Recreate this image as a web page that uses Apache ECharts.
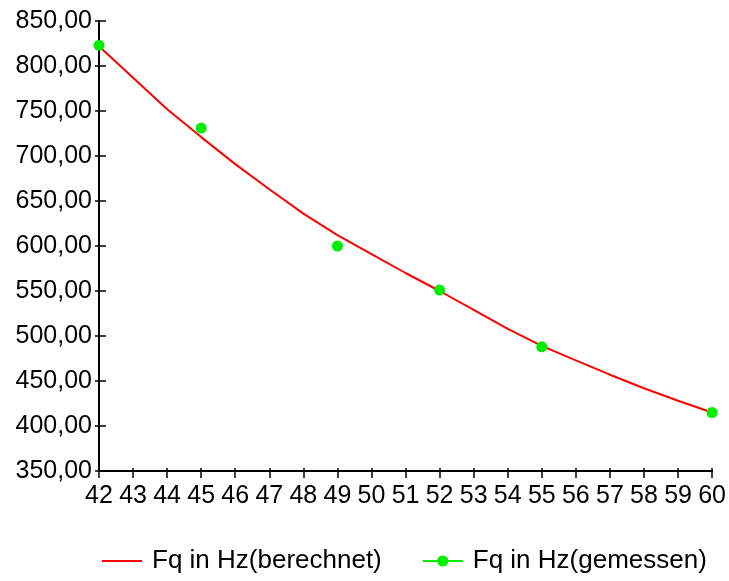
<!DOCTYPE html>
<html>
<head>
<meta charset="utf-8">
<script src="https://cdn.jsdelivr.net/npm/echarts@6/dist/echarts.min.js"></script>
<style>
  html, body { margin: 0; padding: 0; background: #fff; }
  #chart { width: 729px; height: 581px; }
</style>
</head>
<body>
<div id="chart"></div>
<script>
// x categories (Hz axis)
var categories = ['42', '43', '44', '45', '46', '47', '48', '49', '50', '51',
  '52', '53', '54', '55', '56', '57', '58', '59', '60']
// berechnet: one value per category
var berechnet = [822, 787, 752, 721, 691, 663, 636, 612, 591, 570,
  550, 529, 508, 489, 473, 457, 442, 428, 415]
// gemessen: only measured at some categories ('-' = no point)
var gemessen = [823, '-', '-', 731, '-', '-', '-', 600, '-', '-',
  551, '-', '-', 488, '-', '-', '-', '-', 415]
var yTicks = [350, 850, 50]

var nameCalc = 'Fq in Hz(berechnet)'
var nameMeas = 'Fq in Hz(gemessen)'

var myChart = echarts.init(document.getElementById('chart'))
var font = 'Liberation Sans, Arial, sans-serif'

myChart.setOption({
  animation: false,
  grid: { left: 99, right: 16, top: 21, bottom: 110, containLabel: false },
  legend: {
    left: 102,
    top: 548,
    padding: 0,
    itemWidth: 40,
    itemHeight: 14,
    itemGap: 40,
    textStyle: { fontSize: 26, color: '#000', fontFamily: font, padding: [0, 0, 0, 5] },
    data: [
      { name: nameCalc, icon: 'path://M0,0 L40,0 L40,2 L0,2 Z', itemStyle: { color: '#ff0000' } },
      { name: nameMeas, lineStyle: { color: '#00ee00', width: 2, opacity: 1 } }
    ]
  },
  xAxis: [
    {
      type: 'category',
      data: categories,
      boundaryGap: false,
      axisLine: { lineStyle: { color: '#000', width: 2 } },
      axisTick: { alignWithLabel: true, length: 7, lineStyle: { color: '#000', width: 1.5 } },
      axisLabel: { color: '#000', fontSize: 25, fontFamily: font, margin: 13, interval: 0 },
      splitLine: { show: false }
    },
    { // inner part of the crossing ticks
      type: 'category',
      data: categories,
      boundaryGap: false,
      position: 'bottom',
      axisLine: { show: false },
      axisTick: { inside: true, length: 3, lineStyle: { color: '#000', width: 1.5 } },
      axisLabel: { show: false },
      splitLine: { show: false }
    }
  ],
  yAxis: [
    {
      type: 'value',
      min: yTicks[0],
      max: yTicks[1],
      interval: yTicks[2],
      axisLine: { show: true, lineStyle: { color: '#000', width: 2 } },
      axisTick: { show: true, length: 4, lineStyle: { color: '#000', width: 1.5 } },
      axisLabel: {
        color: '#000', fontSize: 25, fontFamily: font, margin: 7,
        formatter: function (v) { return v.toFixed(2).replace('.', ',') }
      },
      splitLine: { show: false }
    },
    {
      type: 'value',
      min: yTicks[0],
      max: yTicks[1],
      interval: yTicks[2],
      position: 'left',
      axisLine: { show: false },
      axisTick: { show: true, inside: true, length: 7, lineStyle: { color: '#000', width: 1.5 } },
      axisLabel: { show: false },
      splitLine: { show: false }
    }
  ],
  series: [
    {
      name: nameCalc,
      type: 'line',
      data: berechnet,
      symbol: 'none',
      itemStyle: { color: '#ff0000' },
      lineStyle: { color: '#ff0000', width: 2 },
      z: 2
    },
    {
      name: nameMeas,
      type: 'line',
      data: gemessen,
      symbol: 'circle',
      symbolSize: 11,
      showAllSymbol: true,
      itemStyle: { color: '#00ee00' },
      lineStyle: { width: 0, opacity: 0 },
      z: 3
    }
  ]
})
</script>
</body>
</html>
